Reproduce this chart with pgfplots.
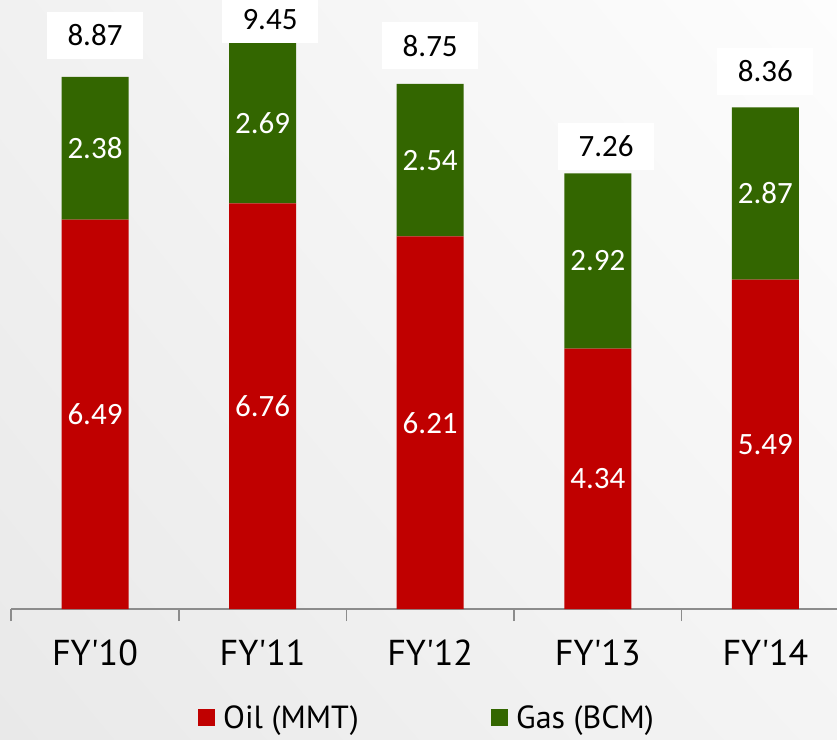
\documentclass[border=0pt]{standalone}
\usepackage{fontspec}
\setmainfont{PT Sans}
\newfontfamily\carlito{Carlito}
\usepackage{pgfplots}
\usepackage{pgfplotstable}
\usetikzlibrary{shadings}
\pgfplotsset{compat=1.18}
\definecolor{oilred}{HTML}{C00000}
\definecolor{gasgreen}{HTML}{336600}
\definecolor{axisgray}{HTML}{8C8C8C}
\definecolor{bgll}{HTML}{E9E9E9}
\definecolor{bgul}{HTML}{F1F1F1}
\definecolor{bglr}{HTML}{F4F4F4}
\definecolor{bgur}{HTML}{FDFDFD}

\pgfplotstableread{
x oil gas total lx ly
0 6.49 2.38 8.87 0.00 9.56
1 6.76 2.69 9.45 1.044 9.825
2 6.21 2.54 8.75 2.00 9.39
3 4.34 2.92 7.26 3.049 7.71
4 5.49 2.87 8.36 4.00 8.96
}\data

\pgfplotsset{common/.style={scale only axis, width=826.3pt, height=609pt,
  xmin=-0.5, xmax=4.43, ymin=0, ymax=10.15, at={(11.2pt,130pt)}, anchor=south west}}

\begin{document}
\begin{tikzpicture}[x=1pt,y=1pt]
\shade[lower left=bgll, upper left=bgul, lower right=bglr, upper right=bgur] (0,0) rectangle (837,739);
\useasboundingbox (0,0) rectangle (837,739);
\begin{axis}[common, ybar stacked, bar width=67pt,
  axis x line*=bottom, axis y line=none,
  x axis line style={axisgray, line width=1.5pt},
  xtick={0,...,4},
  xticklabels={FY\textquotesingle10,FY\textquotesingle11,FY\textquotesingle12,FY\textquotesingle13,FY\textquotesingle14},
  major x tick style={draw=none},
  minor xtick={-0.5,0.5,1.5,2.5,3.5},
  minor tick length=12pt, tick align=outside,
  minor x tick style={axisgray, line width=1.5pt},
  xticklabel style={font=\fontsize{36}{38}\selectfont, anchor=base, yshift=-52.5pt},
  ytick=\empty,
  legend columns=2,
  legend image code/.code={\fill[#1] (0pt,-8.5pt) rectangle (17pt,8.5pt);},
  legend style={at={(axis description cs:0.2261,-0.178)}, anchor=west, draw=none, fill=none,
    inner sep=0pt, nodes={inner sep=0pt}, cells={anchor=west},
    font=\fontsize{32}{34}\selectfont,
    /tikz/every odd column/.style={column sep=8pt}},
]
\addplot[fill=oilred, draw=none] table[x=x, y=oil]{\data};
\addplot[fill=gasgreen, draw=none] table[x=x, y=gas]{\data};
\legend{\makebox[268pt][l]{Oil (MMT)}, Gas (BCM)}
\end{axis}
\begin{axis}[common, hide axis, clip=false]
\addplot[draw=none, nodes near coords, point meta=explicit symbolic,
  every node near coord/.append style={anchor=center, text=white, inner sep=0pt,
    font=\carlito\fontsize{31}{33}\selectfont}]
  table[x=x, y expr=\thisrow{oil}/2, meta=oil]{\data};
\addplot[draw=none, nodes near coords, point meta=explicit symbolic,
  every node near coord/.append style={anchor=center, text=white, inner sep=0pt,
    font=\carlito\fontsize{31}{33}\selectfont}]
  table[x=x, y expr=\thisrow{oil}+\thisrow{gas}/2, meta=gas]{\data};
\addplot[draw=none, nodes near coords, point meta=explicit symbolic,
  every node near coord/.append style={anchor=center, text=black, fill=white, inner sep=0pt,
    minimum width=96pt, minimum height=47pt,
    font=\carlito\fontsize{31}{33}\selectfont}]
  table[x=lx, y=ly, meta=total]{\data};
\end{axis}
\end{tikzpicture}
\end{document}
